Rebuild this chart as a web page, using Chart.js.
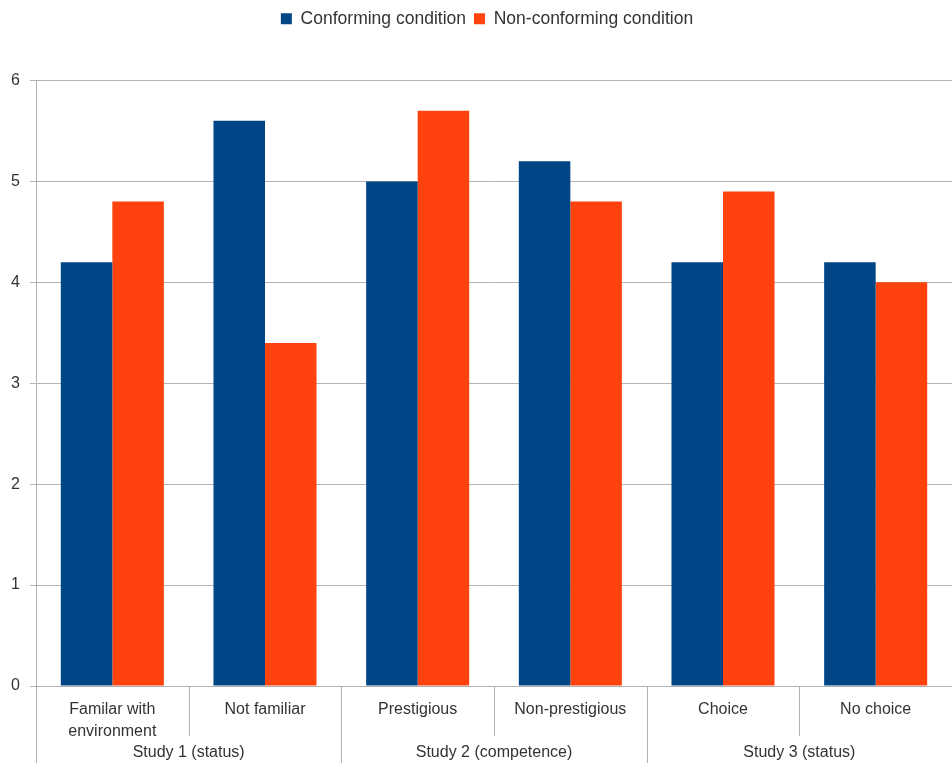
<!DOCTYPE html>
<html>
<head>
<meta charset="utf-8">
<script src="https://cdn.jsdelivr.net/npm/chart.js@4/dist/chart.umd.min.js"></script>
<style>
  html, body { margin: 0; padding: 0; background: #fff; }
  #wrap { width: 952px; height: 767px; position: relative; }
</style>
</head>
<body>
<div id="wrap"><canvas id="chart"></canvas></div>
<script>
// categories and the study each pair belongs to
const categories = [['Familar with', 'environment'], 'Not familiar', 'Prestigious', 'Non-prestigious', 'Choice', 'No choice'];
const studies = ['Study 1 (status)', 'Study 2 (competence)', 'Study 3 (status)'];
const conforming = [4.2, 5.6, 5.0, 5.2, 4.2, 4.2];
const nonConforming = [4.8, 3.4, 5.7, 4.8, 4.9, 4.0];

const GRID = '#b3b3b3';
const TEXT = '#333';
const FONT = "'Liberation Sans', Arial, sans-serif";

// extra room between the legend and the plot, legend nudged right a bit
const legendGap = {
  id: 'legendGap',
  beforeInit(chart) {
    const fit = chart.legend.fit;
    chart.legend.fit = function () {
      fit.bind(chart.legend)();
      this.height += 43;
    };
  },
  afterLayout(chart) {
    chart.legend.left += 11;
    chart.legend.right += 11;
  }
};

// separators under the x axis + study labels
const groupAxis = {
  id: 'groupAxis',
  afterDraw(chart) {
    const ctx = chart.ctx;
    const x = chart.scales.x;
    const area = chart.chartArea;
    const step = (x.right - x.left) / categories.length;
    const bottom = chart.height;
    ctx.save();
    ctx.strokeStyle = GRID;
    ctx.lineWidth = 1;
    for (let i = 0; i <= categories.length; i++) {
      const px = Math.round(x.left + i * step) + 0.5;
      const end = i % 2 === 0 ? bottom - 4 : area.bottom + 50;
      ctx.beginPath();
      ctx.moveTo(px, area.bottom);
      ctx.lineTo(px, end);
      ctx.stroke();
    }
    ctx.fillStyle = TEXT;
    ctx.font = '16px ' + FONT;
    ctx.textAlign = 'center';
    ctx.textBaseline = 'middle';
    studies.forEach((s, i) => {
      ctx.fillText(s, x.left + (2 * i + 1) * step, area.bottom + 67);
    });
    ctx.restore();
  }
};

new Chart(document.getElementById('chart'), {
  type: 'bar',
  data: {
    labels: categories,
    datasets: [
      { label: 'Conforming condition', data: conforming, backgroundColor: '#004586' },
      { label: 'Non-conforming condition', data: nonConforming, backgroundColor: '#ff420e' }
    ]
  },
  options: {
    responsive: true,
    maintainAspectRatio: false,
    animation: false,
    layout: { padding: { top: 2, right: 0, left: 0, bottom: 0 } },
    datasets: { bar: { barPercentage: 1, categoryPercentage: 0.675, borderWidth: 0 } },
    plugins: {
      legend: {
        position: 'top',
        labels: {
          color: TEXT,
          font: { family: FONT, size: 17.5 },
          boxWidth: 11,
          boxHeight: 11,
          padding: 8
        }
      },
      tooltip: { enabled: false }
    },
    scales: {
      y: {
        min: 0,
        max: 6,
        ticks: { stepSize: 1, color: TEXT, font: { family: FONT, size: 16 }, padding: 10 },
        grid: { color: GRID, tickLength: 6 },
        border: { color: GRID },
        afterFit(scale) { scale.width = 36; }
      },
      x: {
        ticks: {
          color: TEXT,
          font: { family: FONT, size: 16, lineHeight: 1.4 },
          maxRotation: 0,
          autoSkip: false,
          padding: 4
        },
        grid: { display: false },
        border: { color: GRID },
        afterFit(scale) { scale.height = 81; }
      }
    }
  },
  plugins: [legendGap, groupAxis]
});
</script>
</body>
</html>
